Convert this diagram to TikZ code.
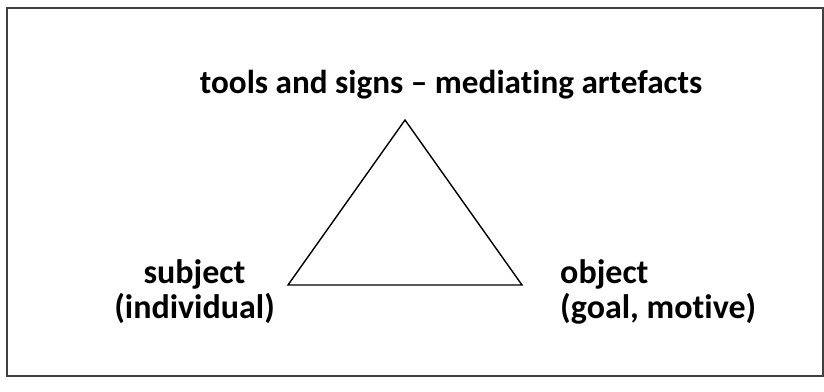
\documentclass[tikz,border=0pt]{standalone}
\usepackage{fontspec}
\setmainfont[Ligatures={TeX,NoCommon}]{Carlito}
\begin{document}
\begin{tikzpicture}[x=1pt,y=-1pt,
  lbl/.style={font=\bfseries\fontsize{34}{35}\selectfont, inner sep=0pt},
  ttl/.style={font=\bfseries\fontsize{33.2}{35}\selectfont, inner sep=0pt},
  edge/.style={line width=1.4pt, line join=miter}]
\useasboundingbox (0,0) rectangle (824,391);
\draw[line width=2pt, draw=black!75] (7,8) rectangle (823,376);
\coordinate (top) at (405,120);
\coordinate (left) at (288,285);
\coordinate (right) at (522,285);
\draw[edge] (top) -- (right) -- (left) -- cycle;
\node[ttl, anchor=base] (title) at (451,93) {tools and signs -- mediating artefacts};
\node[lbl, align=center, anchor=base] (subj) at (194.5,318) {subject\\(individual)};
\node[lbl, align=left, anchor=base west] (obj) at (560,318) {object\\(goal, motive)};
\end{tikzpicture}
\end{document}
